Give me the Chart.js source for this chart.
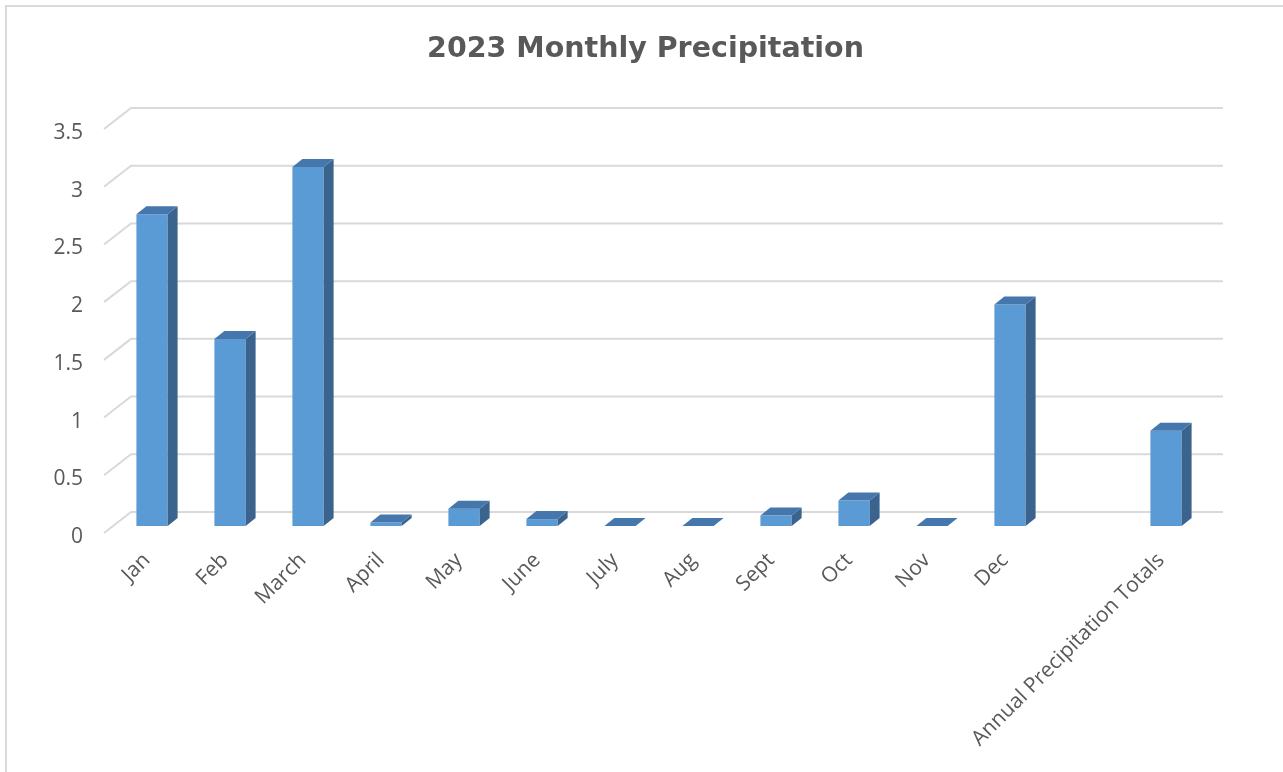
<!DOCTYPE html>
<html>
<head>
<meta charset="utf-8">
<title>2023 Monthly Precipitation</title>
<script src="https://cdn.jsdelivr.net/npm/chart.js@4.4.1/dist/chart.umd.min.js"></script>
<style>
  html, body { margin: 0; padding: 0; background: #ffffff; }
  #wrap { width: 1283px; height: 772px; }
</style>
</head>
<body>
<div id="wrap"><canvas id="precip" width="1283" height="772"></canvas></div>
<script>
// months plus a spacer slot before the annual column
const categories = ["Jan", "Feb", "March", "April", "May", "June", "July", "Aug",
    "Sept", "Oct", "Nov", "Dec", "", "Annual Precipitation Totals"];
const precipitation = [2.70, 1.62, 3.11, 0.03, 0.15, 0.06, 0, 0, 0.09, 0.22, 0, 1.92, null, 0.825];
const yTicks = [0, 0.5, 1, 1.5, 2, 2.5, 3, 3.5];
const chartTitle = "2023 Monthly Precipitation";

const FRONT = "#5b9bd5";
const TOP = "#4677ac";
const SIDE = "#3a638d";
const GRID = "#d9d9d9";
const TEXT = "#595959";

// back wall sits behind the bar plane, floor runs toward the viewer
const WALL_DX = 18, WALL_DY = 14;
const FLOOR_DX = 27, FLOOR_DY = 21;
const BAR_DX = 10, BAR_DY = 8;

const frame3d = {
    id: "frame3d",
    beforeDraw(chart) {
        const { ctx, width } = chart;
        ctx.save();
        ctx.strokeStyle = GRID;
        ctx.lineWidth = 2;
        ctx.beginPath();
        ctx.moveTo(6, chart.height);
        ctx.lineTo(6, 6);
        ctx.lineTo(width, 6);
        ctx.stroke();
        // title centred on the whole canvas, not the plot area
        ctx.fillStyle = TEXT;
        ctx.font = "bold 28.5px 'DejaVu Sans', sans-serif";
        ctx.textAlign = "center";
        ctx.textBaseline = "alphabetic";
        ctx.fillText(chartTitle, width / 2 + 4, 57);
        ctx.restore();
    },
    beforeDatasetsDraw(chart) {
        const { ctx, chartArea, scales } = chart;
        ctx.save();
        ctx.strokeStyle = GRID;
        ctx.lineWidth = 2;
        yTicks.forEach(v => {
            const y = scales.y.getPixelForValue(v) - WALL_DY;
            const x0 = chartArea.left + WALL_DX;
            const x1 = chartArea.right + WALL_DX;
            ctx.beginPath();
            ctx.moveTo(x0 - FLOOR_DX, y + FLOOR_DY);
            ctx.lineTo(x0, y);
            ctx.lineTo(x1, y);
            ctx.stroke();
        });
        ctx.restore();
    },
    afterDatasetsDraw(chart) {
        const { ctx } = chart;
        const meta = chart.getDatasetMeta(0);
        ctx.save();
        meta.data.forEach((bar, i) => {
            if (precipitation[i] === null) return;
            const { x, y, base, width } = bar.getProps(["x", "y", "base", "width"], true);
            const l = x - width / 2, r = x + width / 2;
            // side face
            ctx.fillStyle = SIDE;
            ctx.beginPath();
            ctx.moveTo(r, base);
            ctx.lineTo(r, y);
            ctx.lineTo(r + BAR_DX, y - BAR_DY);
            ctx.lineTo(r + BAR_DX, base - BAR_DY);
            ctx.closePath();
            ctx.fill();
            // top face
            ctx.fillStyle = TOP;
            ctx.beginPath();
            ctx.moveTo(l, y);
            ctx.lineTo(r, y);
            ctx.lineTo(r + BAR_DX, y - BAR_DY);
            ctx.lineTo(l + BAR_DX, y - BAR_DY);
            ctx.closePath();
            ctx.fill();
        });
        ctx.restore();
    }
};

new Chart(document.getElementById("precip"), {
    type: "bar",
    data: {
        labels: categories,
        datasets: [{
            data: precipitation,
            backgroundColor: FRONT,
            borderWidth: 0,
            categoryPercentage: 1,
            barPercentage: 0.4
        }]
    },
    options: {
        responsive: false,
        animation: false,
        layout: { padding: { left: 0, right: 78, top: 122, bottom: 0 } },
        plugins: {
            legend: { display: false },
            tooltip: { enabled: false },
            title: { display: false }
        },
        scales: {
            x: {
                grid: { display: false },
                border: { display: false },
                ticks: {
                    color: TEXT,
                    font: { family: "'Open Sans', sans-serif", size: 21 },
                    minRotation: 45,
                    maxRotation: 45,
                    autoSkip: false,
                    labelOffset: -5,
                    padding: 14
                },
                afterFit(scale) { scale.height = 246; }
            },
            y: {
                min: 0,
                max: 3.5,
                grid: { display: false },
                border: { display: false },
                ticks: {
                    stepSize: 0.5,
                    color: TEXT,
                    font: { family: "'Open Sans', sans-serif", size: 21 },
                    labelOffset: 11,
                    padding: 22,
                    callback: v => String(v)
                },
                afterFit(scale) { scale.width = 113; }
            }
        }
    },
    plugins: [frame3d]
});
</script>
</body>
</html>
